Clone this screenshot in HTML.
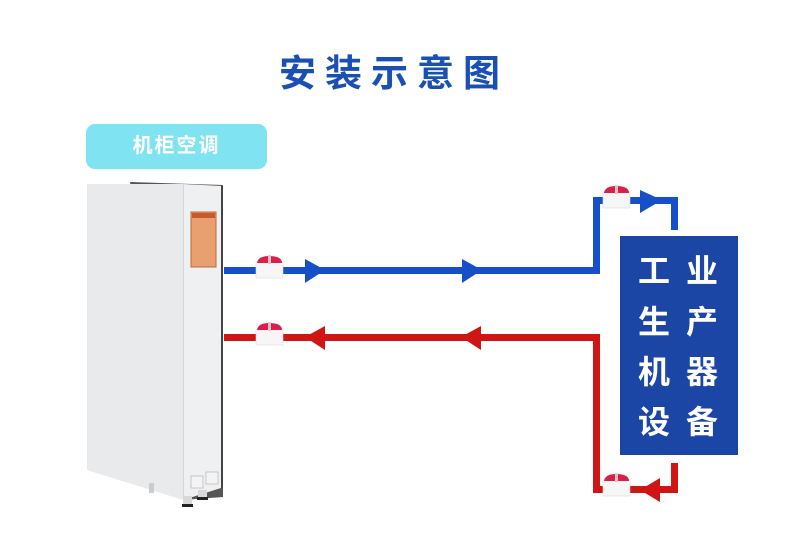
<!DOCTYPE html>
<html><head><meta charset="utf-8"><style>
html,body{margin:0;padding:0;background:#fff;}
body{width:800px;height:541px;position:relative;overflow:hidden;font-family:"Liberation Sans","Noto Sans CJK SC",sans-serif;}
.t{position:absolute;left:-6px;width:800px;top:50px;text-align:center;font-size:37px;font-weight:bold;color:#1a4fb4;letter-spacing:9px;line-height:48px;}
.pill{position:absolute;left:86px;top:124px;width:181px;height:45px;border-radius:9px;background:#80e3f2;color:#fff;font-size:20px;font-weight:bold;text-align:center;line-height:45px;letter-spacing:2px;}
.box{position:absolute;left:620px;top:236px;width:118px;height:219px;background:#1c46a6;}
.box span{position:absolute;color:#fff;font-size:32px;font-weight:bold;width:40px;text-align:center;line-height:40px;}
</style></head><body>
<div class="t">安装示意图</div>
<div class="pill">机柜空调</div>
<svg width="800" height="541" style="position:absolute;left:0;top:0">
<!-- cabinet -->
<polygon points="130,182 223,185 223,497 183,500" fill="#555"/>
<rect x="87" y="184" width="97" height="286" fill="#e8eaec"/>
<polygon points="183,184 222,186 221,488 183,500" fill="#eef0f1"/>
<line x1="183.5" y1="184" x2="183.5" y2="500" stroke="#d4d6d9" stroke-width="1"/>
<line x1="222" y1="186" x2="222" y2="488" stroke="#444" stroke-width="2"/>
<polygon points="87,470 183,500 183,470" fill="#e8eaec"/>
<rect x="191" y="212" width="25" height="55" fill="#e8a070" stroke="#b86a3a"/>
<rect x="192" y="213" width="23" height="5" fill="#c65a2a"/>
<rect x="191" y="476" width="12" height="12" fill="#f4f4f4" stroke="#aaa" stroke-width="0.6"/>
<rect x="206" y="472" width="12" height="12" fill="#f4f4f4" stroke="#aaa" stroke-width="0.6"/>
<rect x="149" y="483" width="5" height="10" fill="#ccc"/>
<rect x="183" y="496" width="9" height="10" fill="#d8d8d8"/><rect x="182" y="504" width="11" height="3" fill="#222"/>
<rect x="198" y="490" width="9" height="9" fill="#d8d8d8"/><rect x="197" y="497" width="11" height="3" fill="#222"/>
<!-- blue pipes -->
<g fill="#1650c8">
<rect x="224" y="267" width="376" height="7"/>
<rect x="593" y="197" width="7" height="77"/>
<rect x="593" y="197" width="85" height="7"/>
<rect x="671" y="197" width="7" height="33"/>
<polygon points="305,259 325,270 305,283"/>
<polygon points="462,259 482,270 462,283"/>
<polygon points="640,190 662,200 640,213"/>
</g>
<!-- red pipes -->
<g fill="#d01515">
<rect x="224" y="334" width="376" height="7"/>
<rect x="593" y="334" width="7" height="159"/>
<rect x="593" y="486" width="85" height="7"/>
<rect x="671" y="463" width="7" height="30"/>
<polygon points="325,326 305,337 325,350"/>
<polygon points="481,326 461,337 481,350"/>
<polygon points="660,478 640,490 660,502"/>
</g>
<!-- valves -->
<g id="v">
<rect x="256" y="262" width="27" height="16" fill="#f6f6f6" stroke="#ddd" stroke-width="0.6"/>
<path d="M257,263 Q258,256 269,256 Q282,256 282,263 Z" fill="#d8204a"/>
<rect x="268" y="255" width="3" height="9" fill="#f2c0c8"/>
</g>
<use href="#v" x="0" y="67"/>
<use href="#v" x="347" y="-70"/>
<use href="#v" x="347" y="218"/>
</svg>
<div class="box">
<span style="left:14px;top:15px">工</span><span style="left:62px;top:15px">业</span>
<span style="left:14px;top:66px">生</span><span style="left:62px;top:66px">产</span>
<span style="left:14px;top:116px">机</span><span style="left:62px;top:116px">器</span>
<span style="left:14px;top:166px">设</span><span style="left:62px;top:166px">备</span>
</div>
</body></html>
